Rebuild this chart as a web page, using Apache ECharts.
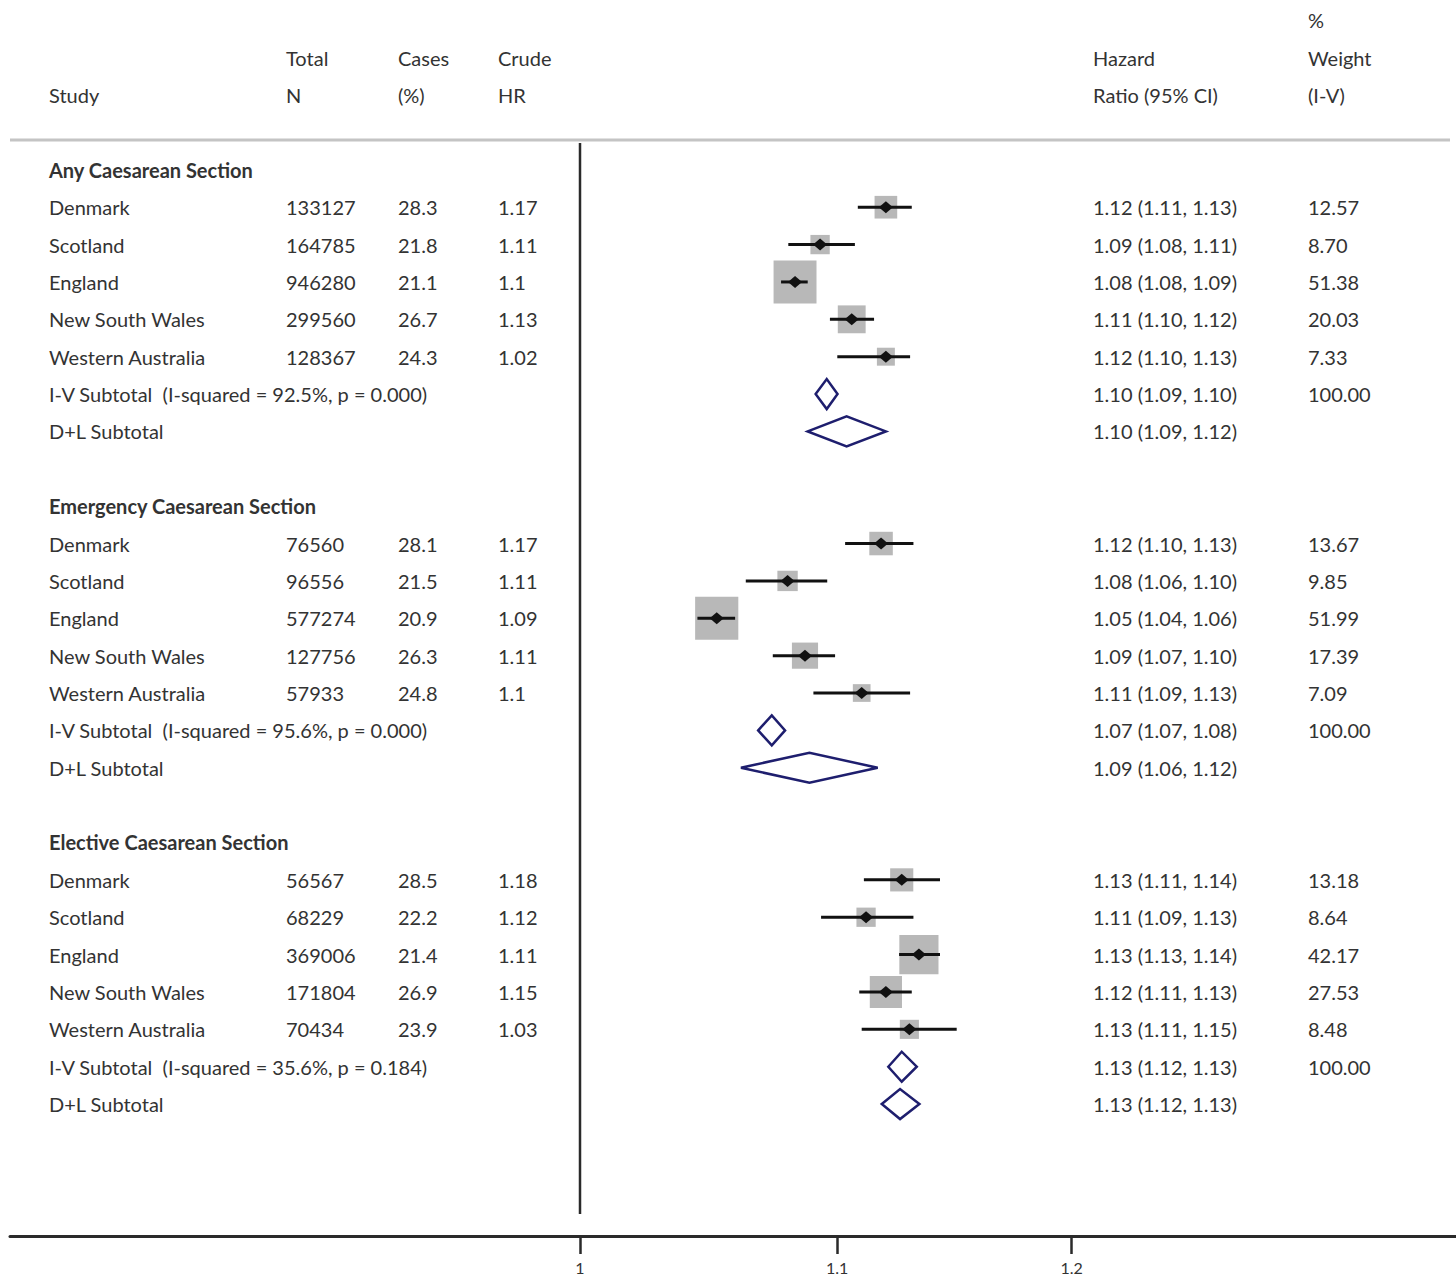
<!DOCTYPE html>
<html>
<head>
<meta charset="utf-8">
<script src="https://cdn.jsdelivr.net/npm/echarts@6/dist/echarts.min.js"></script>
<style>
html,body{margin:0;padding:0;background:#fff;}
#main{width:1456px;height:1283px;}
</style>
</head>
<body>
<div id="main"></div>
<script>
// ---------- data ----------
const groupTitles = ['Any Caesarean Section', 'Emergency Caesarean Section', 'Elective Caesarean Section'];
const studies = ['Denmark', 'Scotland', 'England', 'New South Wales', 'Western Australia'];

const anyN = [133127, 164785, 946280, 299560, 128367];
const anyCases = [28.3, 21.8, 21.1, 26.7, 24.3];
const anyCrude = ['1.17', '1.11', '1.1', '1.13', '1.02'];
const anyHR = [1.1201, 1.0931, 1.0830, 1.1060, 1.1201];
const anyLo = [1.1085, 1.0803, 1.0774, 1.0971, 1.1001];
const anyHi = [1.1309, 1.1073, 1.0881, 1.1152, 1.1302];
const anyWeight = [12.57, 8.70, 51.38, 20.03, 7.33];
const anyIV = [1.0958, 1.0913, 1.1002];
const anyDL = [1.1039, 1.0881, 1.1201];
const anyI2 = '92.5%';
const anyP = '0.000';

const emN = [76560, 96556, 577274, 127756, 57933];
const emCases = [28.1, 21.5, 20.9, 26.3, 24.8];
const emCrude = ['1.17', '1.11', '1.09', '1.11', '1.1'];
const emHR = [1.1181, 1.0800, 1.0520, 1.0870, 1.1101];
const emLo = [1.1033, 1.0634, 1.0445, 1.0741, 1.0904];
const emHi = [1.1316, 1.0960, 1.0592, 1.0992, 1.1302];
const emWeight = [13.67, 9.85, 51.99, 17.39, 7.09];
const emIV = [1.0737, 1.0683, 1.0790];
const emDL = [1.0888, 1.0615, 1.1167];
const emI2 = '95.6%';
const emP = '0.000';

const elN = [56567, 68229, 369006, 171804, 70434];
const elCases = [28.5, 22.2, 21.4, 26.9, 23.9];
const elCrude = ['1.18', '1.12', '1.11', '1.15', '1.03'];
const elHR = [1.1267, 1.1119, 1.1339, 1.1201, 1.1299];
const elLo = [1.1110, 1.0935, 1.1256, 1.1091, 1.1101];
const elHi = [1.1428, 1.1316, 1.1428, 1.1309, 1.1499];
const elWeight = [13.18, 8.64, 42.17, 27.53, 8.48];
const elIV = [1.1267, 1.1211, 1.1330];
const elDL = [1.1260, 1.1184, 1.1341];
const elI2 = '35.6%';
const elP = '0.184';

const tickLabels = ['1', '1.1', '1.2'];

// ---------- build ----------
const groups = [
  {N: anyN, cases: anyCases, crude: anyCrude, hr: anyHR, lo: anyLo, hi: anyHi, w: anyWeight, iv: anyIV, dl: anyDL, i2: anyI2, p: anyP},
  {N: emN, cases: emCases, crude: emCrude, hr: emHR, lo: emLo, hi: emHi, w: emWeight, iv: emIV, dl: emDL, i2: emI2, p: emP},
  {N: elN, cases: elCases, crude: elCrude, hr: elHR, lo: elLo, hi: elHi, w: elWeight, iv: elIV, dl: elDL, i2: elI2, p: elP}
];

const COL = {study: 49, n: 286, cases: 398, crude: 498, ci: 1093, wt: 1308};
const texts = [];
function addText(row, col, text, bold) { texts.push({row, x: COL[col], text, bold: !!bold}); }

// header
addText(-4, 'wt', '%');
addText(-3, 'n', 'Total'); addText(-3, 'cases', 'Cases'); addText(-3, 'crude', 'Crude');
addText(-3, 'ci', 'Hazard'); addText(-3, 'wt', 'Weight');
addText(-2, 'study', 'Study'); addText(-2, 'n', 'N'); addText(-2, 'cases', '(%)'); addText(-2, 'crude', 'HR');
addText(-2, 'ci', 'Ratio (95% CI)'); addText(-2, 'wt', '(I-V)');

const f2 = v => v.toFixed(2);
const studyPts = [];
const diamonds = [];
groups.forEach((g, gi) => {
  const base = gi * 9;
  addText(base, 'study', groupTitles[gi], true);
  studies.forEach((s, si) => {
    const r = base + 1 + si;
    addText(r, 'study', s);
    addText(r, 'n', String(g.N[si]));
    addText(r, 'cases', g.cases[si].toFixed(1));
    addText(r, 'crude', g.crude[si]);
    addText(r, 'ci', f2(g.hr[si]) + ' (' + f2(g.lo[si]) + ', ' + f2(g.hi[si]) + ')');
    addText(r, 'wt', g.w[si].toFixed(2));
    studyPts.push([r, Math.log(g.hr[si]), Math.log(g.lo[si]), Math.log(g.hi[si]), g.w[si]]);
  });
  const rIV = base + 6, rDL = base + 7;
  addText(rIV, 'study', 'I-V Subtotal\u00a0 (I-squared = ' + g.i2 + ', p = ' + g.p + ')');
  addText(rIV, 'ci', f2(g.iv[0]) + ' (' + f2(g.iv[1]) + ', ' + f2(g.iv[2]) + ')');
  addText(rIV, 'wt', '100.00');
  addText(rDL, 'study', 'D+L Subtotal');
  addText(rDL, 'ci', f2(g.dl[0]) + ' (' + f2(g.dl[1]) + ', ' + f2(g.dl[2]) + ')');
  diamonds.push([rIV, Math.log(g.iv[0]), Math.log(g.iv[1]), Math.log(g.iv[2])]);
  diamonds.push([rDL, Math.log(g.dl[0]), Math.log(g.dl[1]), Math.log(g.dl[2])]);
});

const tickVals = tickLabels.map(t => Math.log(Number(t)));
const FONT = 'Lato';
const TEXT_COLOR = '#333';

const chart = echarts.init(document.getElementById('main'), null, {renderer: 'svg'});
chart.setOption({
  animation: false,
  backgroundColor: '#fff',
  grid: {left: 10, right: 0, top: 0, bottom: 47},
  xAxis: {
    type: 'value',
    min: -0.21135,
    max: 0.32481,
    splitLine: {show: false},
    axisLine: {show: true, onZero: false, lineStyle: {color: '#2a2a2a', width: 3}},
    axisTick: {show: true, customValues: tickVals, length: 18, lineStyle: {color: '#2a2a2a', width: 2.5}},
    axisLabel: {
      show: true, customValues: tickVals, margin: 23,
      fontFamily: FONT, fontSize: 16, color: '#333',
      formatter: v => {
        let best = 0;
        tickVals.forEach((t, i) => { if (Math.abs(t - v) < Math.abs(tickVals[best] - v)) best = i; });
        return tickLabels[best];
      }
    }
  },
  yAxis: {
    type: 'value', inverse: true, min: -4.545, max: 28.53, show: false
  },
  graphic: [{
    type: 'line', shape: {x1: 10, y1: 140, x2: 1450, y2: 140},
    style: {stroke: '#c4c4c4', lineWidth: 3}
  }],
  series: [
    {
      type: 'custom', name: 'null line', silent: true,
      data: [[0]],
      renderItem: (params, api) => {
        const a = api.coord([api.value(0), -0.72]);
        const b = api.coord([api.value(0), 27.94]);
        return {type: 'line', shape: {x1: a[0], y1: a[1], x2: b[0], y2: b[1]}, style: {stroke: '#2a2a2a', lineWidth: 2.5}};
      }
    },
    {
      type: 'custom', name: 'studies', silent: true,
      encode: {x: [1, 2, 3], y: 0},
      data: studyPts,
      renderItem: (params, api) => {
        const r = api.value(0);
        const p = api.coord([api.value(1), r]);
        const l = api.coord([api.value(2), r]);
        const h = api.coord([api.value(3), r]);
        const s = 2.8 + 5.6 * Math.sqrt(api.value(4));
        return {
          type: 'group',
          children: [
            {type: 'rect', shape: {x: p[0] - s / 2, y: p[1] - s / 2, width: s, height: s}, style: {fill: '#b8b8b8'}},
            {type: 'line', shape: {x1: l[0], y1: l[1], x2: h[0], y2: h[1]}, style: {stroke: '#111', lineWidth: 3}},
            {type: 'polygon', shape: {points: [[p[0] - 7, p[1]], [p[0], p[1] - 6], [p[0] + 7, p[1]], [p[0], p[1] + 6]]}, style: {fill: '#111'}}
          ]
        };
      }
    },
    {
      type: 'custom', name: 'subtotals', silent: true,
      encode: {x: [1, 2, 3], y: 0},
      data: diamonds,
      renderItem: (params, api) => {
        const r = api.value(0);
        const p = api.coord([api.value(1), r]);
        const l = api.coord([api.value(2), r]);
        const h = api.coord([api.value(3), r]);
        const hh = 15;
        return {
          type: 'polygon',
          shape: {points: [[l[0], l[1]], [p[0], p[1] - hh], [h[0], h[1]], [p[0], p[1] + hh]]},
          style: {fill: 'none', stroke: '#1e1e6e', lineWidth: 2.5, lineJoin: 'miter'}
        };
      }
    },
    {
      type: 'custom', name: 'table', silent: true,
      data: texts.map((t, i) => [t.row, i]),
      encode: {y: 0},
      renderItem: (params, api) => {
        const idx = api.value(1);
        const t = texts[idx];
        const y = api.coord([0, api.value(0)])[1];
        return {
          type: 'text',
          x: t.x, y: y,
          style: {
            text: t.text, fill: TEXT_COLOR,
            font: (t.bold ? 'bold ' : '') + '20px ' + FONT,
            textAlign: 'left', textVerticalAlign: 'middle'
          }
        };
      }
    }
  ]
});
</script>
</body>
</html>
